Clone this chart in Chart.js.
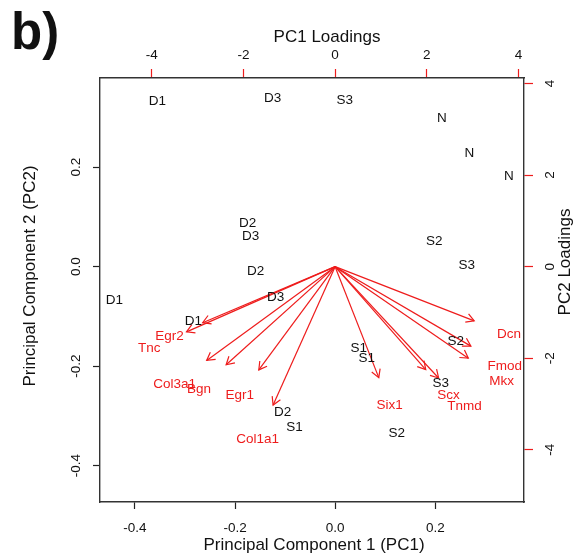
<!DOCTYPE html>
<html>
<head>
<meta charset="utf-8">
<script src="https://cdn.jsdelivr.net/npm/chart.js@4.4.1/dist/chart.umd.min.js"></script>
<style>
  html, body { margin: 0; padding: 0; background: #fff; }
  #wrap { width: 578px; height: 554px; }
</style>
</head>
<body>
<div id="wrap"><canvas id="biplot" width="578" height="554"></canvas></div>
<script>
// sample scores on PC1 / PC2
const sampleNames = ['D1','D3','S3','N','N','N','S2','S3','D2','D3','D2','D3','D1','D1','D2','S1','S2','S1','S1','S3','S2'];
const pc1Scores = [-0.355,-0.125,0.019,0.213,0.268,0.347,0.198,0.263,-0.175,-0.169,-0.159,-0.119,-0.441,-0.283,-0.105,-0.081,0.241,0.047,0.063,0.211,0.123];
const pc2Scores = [0.333,0.339,0.335,0.299,0.228,0.181,0.050,0.002,0.087,0.060,-0.009,-0.062,-0.067,-0.110,-0.292,-0.323,-0.151,-0.165,-0.185,-0.235,-0.335];

// gene loadings (label positions, arrows go to 0.8 of these like R biplot)
const geneNames = ['Egr2','Tnc','Col3a1','Bgn','Egr1','Col1a1','Dcn','Fmod','Mkx','Six1','Scx','Tnmd'];
const pc1Loadings = [-3.61,-4.05,-3.50,-2.97,-2.08,-1.69,3.79,3.70,3.63,1.19,2.47,2.82];
const pc2Loadings = [-1.53,-1.78,-2.56,-2.68,-2.82,-3.78,-1.48,-2.17,-2.50,-3.03,-2.81,-3.04];

// tick labels
const scoreTicks = [-0.4, -0.2, 0, 0.2];
const loadingTicks = [-4, -2, 0, 2, 4];

const RED = '#EE1C1C';
const FONT = '"Liberation Sans", Arial, Helvetica, sans-serif';

const arrowSets = geneNames.map((g, i) => ({
    label: g,
    isArrow: true,
    data: [{x: 0, y: 0}, {x: pc1Loadings[i] * 0.8, y: pc2Loadings[i] * 0.8}],
    showLine: true,
    borderColor: RED,
    borderWidth: 1.2,
    pointRadius: 0,
    xAxisID: 'x2',
    yAxisID: 'y2'
}));

const datasets = [
    {
        label: 'samples',
        textLabels: sampleNames,
        textColor: '#111',
        data: pc1Scores.map((v, i) => ({x: v, y: pc2Scores[i]})),
        pointRadius: 0,
        xAxisID: 'x',
        yAxisID: 'y'
    },
    {
        label: 'genes',
        textLabels: geneNames,
        textColor: RED,
        data: pc1Loadings.map((v, i) => ({x: v, y: pc2Loadings[i]})),
        pointRadius: 0,
        xAxisID: 'x2',
        yAxisID: 'y2'
    }
].concat(arrowSets);

function rotatedText(ctx, txt, x, y) {
    ctx.save();
    ctx.translate(x, y);
    ctx.rotate(-Math.PI / 2);
    ctx.fillText(txt, 0, 0);
    ctx.restore();
}

const biplotPlugin = {
    id: 'biplotPlugin',
    afterDatasetsDraw(chart) {
        const ctx = chart.ctx;
        // open arrow heads
        chart.data.datasets.forEach((ds, i) => {
            if (!ds.isArrow) return;
            const pts = chart.getDatasetMeta(i).data;
            const a = pts[0], b = pts[1];
            const ang = Math.atan2(b.y - a.y, b.x - a.x);
            const len = 9, spread = Math.PI / 6;
            ctx.save();
            ctx.strokeStyle = ds.borderColor;
            ctx.lineWidth = ds.borderWidth;
            ctx.beginPath();
            ctx.moveTo(b.x - len * Math.cos(ang - spread), b.y - len * Math.sin(ang - spread));
            ctx.lineTo(b.x, b.y);
            ctx.lineTo(b.x - len * Math.cos(ang + spread), b.y - len * Math.sin(ang + spread));
            ctx.stroke();
            ctx.restore();
        });
        // point labels
        chart.data.datasets.forEach((ds, i) => {
            if (!ds.textLabels) return;
            const pts = chart.getDatasetMeta(i).data;
            ctx.save();
            ctx.fillStyle = ds.textColor;
            ctx.font = '13.5px ' + FONT;
            ctx.textAlign = 'center';
            ctx.textBaseline = 'middle';
            pts.forEach((p, j) => ctx.fillText(ds.textLabels[j], p.x, p.y));
            ctx.restore();
        });
    },
    afterDraw(chart) {
        const ctx = chart.ctx;
        ctx.save();
        ctx.fillStyle = '#111';
        ctx.textAlign = 'center';
        ctx.textBaseline = 'middle';
        // y tick labels, parallel to the axis like base R
        ctx.font = '13.5px ' + FONT;
        const y = chart.scales.y, y2 = chart.scales.y2;
        y.ticks.forEach(t => rotatedText(ctx, t.value.toFixed(1), 76, y.getPixelForValue(t.value)));
        y2.ticks.forEach(t => rotatedText(ctx, String(t.value), 550, y2.getPixelForValue(t.value)));
        // axis titles
        ctx.font = '17px ' + FONT;
        ctx.fillText('PC1 Loadings', 327, 37);
        ctx.fillText('Principal Component 1 (PC1)', 314, 545);
        rotatedText(ctx, 'Principal Component 2 (PC2)', 30, 276);
        rotatedText(ctx, 'PC2 Loadings', 565, 262);
        // panel letter
        ctx.font = 'bold 51px ' + FONT;
        ctx.textAlign = 'left';
        ctx.textBaseline = 'alphabetic';
        ctx.fillText('b)', 11, 49);
        ctx.restore();
    }
};

function axis(pos, min, max, ticks, color, size, tickLen, showLabels, fmt, pad) {
    return {
        type: 'linear',
        position: pos,
        min: min,
        max: max,
        afterBuildTicks: s => { s.ticks = ticks.map(v => ({value: v})); },
        afterFit: s => {
            if (pos === 'left' || pos === 'right') s.width = size; else s.height = size;
        },
        grid: {display: true, drawOnChartArea: false, drawTicks: true, tickLength: tickLen, tickColor: color, tickWidth: 1.2},
        border: {display: true, color: '#333', width: 1.4},
        ticks: {
            display: showLabels,
            color: '#111',
            padding: pad,
            maxRotation: 0,
            font: {family: FONT, size: 13.5},
            callback: fmt
        }
    };
}

const chart = new Chart(document.getElementById('biplot').getContext('2d'), {
    type: 'scatter',
    data: {datasets: datasets},
    options: {
        responsive: false,
        animation: false,
        layout: {padding: 0},
        plugins: {legend: {display: false}, tooltip: {enabled: false}},
        scales: {
            x: axis('bottom', -0.4697, 0.3772, scoreTicks, '#222', 52, 7, true, v => v.toFixed(1), 11),
            y: axis('left', -0.473, 0.379, scoreTicks, '#222', 100, 7, false),
            x2: axis('top', -5.126, 4.118, loadingTicks, RED, 78, 9, true, v => String(v), 6),
            y2: axis('right', -5.142, 4.122, loadingTicks, RED, 54, 9, false)
        }
    },
    plugins: [biplotPlugin]
});
</script>
</body>
</html>
